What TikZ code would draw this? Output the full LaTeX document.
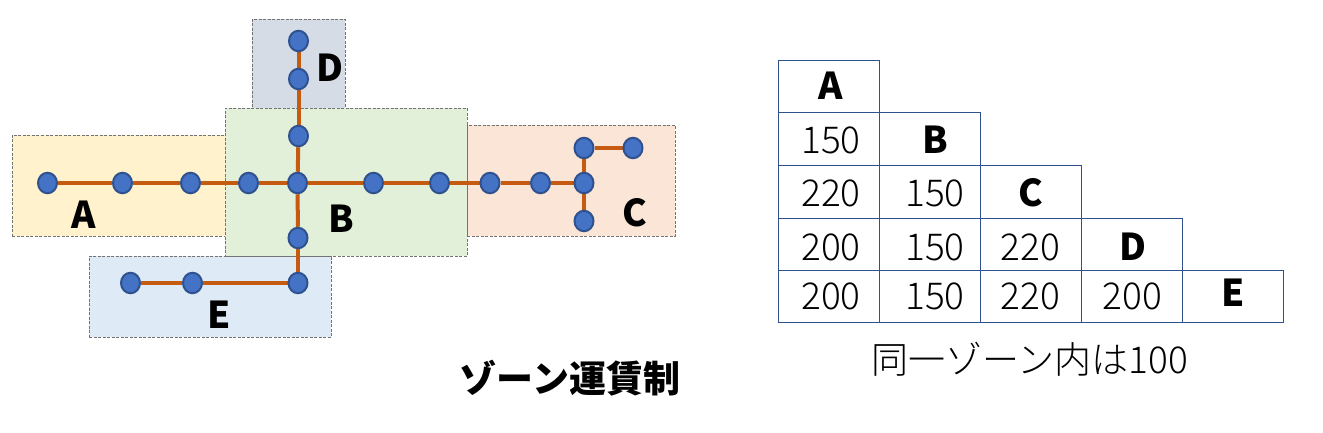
\documentclass[tikz,border=0pt]{standalone}
\usepackage{xcolor}
\usepackage{fontspec}
\usetikzlibrary{backgrounds, shapes.geometric}
\setmainfont{Noto Sans CJK JP}
\newfontfamily\thinface{Noto Sans CJK JP Light}
\definecolor{linecol}{HTML}{C55A11}
\definecolor{stnfill}{HTML}{4472C4}
\definecolor{stnline}{HTML}{2F528F}
\definecolor{zonea}{HTML}{FFF2CC}
\definecolor{zoneb}{HTML}{E2F0D9}
\definecolor{zonec}{HTML}{FBE5D6}
\definecolor{zoned}{HTML}{D6DCE5}
\definecolor{zonee}{HTML}{DEEBF7}

\begin{document}
\begin{tikzpicture}[
  x=1pt, y=-1pt,
  zonebox/.style={
    rectangle,
    draw=black!55,
    dash pattern=on 3pt off 1.5pt,
    line width=1pt,
    inner sep=0pt
  },
  stn/.style={
    ellipse,
    draw=stnline,
    fill=stnfill,
    line width=2pt,
    minimum width=19pt,
    minimum height=20.5pt,
    inner sep=0pt
  },
  rail/.style={line width=4pt, linecol},
  zonelabel/.style={font=\fontsize{37}{37}\selectfont\bfseries},
  cell/.style={
    rectangle,
    draw=stnline,
    line width=1pt,
    minimum width=101pt,
    inner sep=0pt,
    text depth=0pt,
    font=\fontsize{37}{37}\selectfont\thinface
  },
  head/.style={font=\fontsize{37}{37}\selectfont\bfseries},
  cola/.style={cell, execute at begin node=\hspace*{5pt}},
  colb/.style={cell, execute at begin node=\hspace*{11pt}},
  colc/.style={cell},
  cold/.style={cell, execute at begin node=\hspace*{2pt}},
  cole/.style={cell, execute at begin node=\hspace*{2pt}},
  rowa/.style={minimum height=52pt, text height=26pt},
  rowb/.style={minimum height=53pt, text height=29pt},
  rowc/.style={minimum height=53pt, text height=29pt},
  rowd/.style={minimum height=52pt, text height=32pt},
  rowe/.style={minimum height=52pt, text height=26pt}
]
  \useasboundingbox (0,0) rectangle (1323,432);

  \begin{scope}[on background layer]
    \node[zonebox, fill=zoned, minimum width=93pt, minimum height=89pt] (zoned) at (298.5,63.5) {};
    \node[zonebox, fill=zonea, minimum width=213pt, minimum height=101pt] (zonea) at (118.5,185.5) {};
    \node[zonebox, fill=zonee, minimum width=242pt, minimum height=81pt] (zonee) at (210,296.5) {};
    \node[zonebox, fill=zonec, minimum width=208pt, minimum height=111pt] (zonec) at (571,180.5) {};
    \node[zonebox, fill=zoneb, minimum width=242pt, minimum height=148pt] (zoneb) at (346,182) {};
  \end{scope}

  \node[stn] (a1) at (47.5,183) {};
  \node[stn] (a2) at (122.5,183) {};
  \node[stn] (a3) at (190.5,183) {};
  \node[stn] (b1) at (248.5,183) {};
  \node[stn] (b2) at (297.5,183) {};
  \node[stn] (b3) at (373.5,183) {};
  \node[stn] (b4) at (439.5,183) {};
  \node[stn] (b5) at (298.5,136) {};
  \node[stn] (b6) at (298,238) {};
  \node[stn] (c1) at (490,183) {};
  \node[stn] (c2) at (540.5,183) {};
  \node[stn] (c3) at (584,183) {};
  \node[stn] (c4) at (584,148) {};
  \node[stn] (c5) at (633,148) {};
  \node[stn] (c6) at (584,221) {};
  \node[stn] (d1) at (298.5,41) {};
  \node[stn] (d2) at (298.5,79) {};
  \node[stn] (e1) at (130.5,283) {};
  \node[stn] (e2) at (192.5,283) {};
  \node[stn] (e3) at (298,283) {};

  \begin{scope}[on background layer]
    \draw[rail] (a1) -- (a2);
    \draw[rail] (a2) -- (a3);
    \draw[rail] (a3) -- (b1);
    \draw[rail] (b1) -- (b2);
    \draw[rail] (b2) -- (b3);
    \draw[rail] (b3) -- (b4);
    \draw[rail] (b4) -- (c1);
    \draw[rail] (c1) -- (c2);
    \draw[rail] (c2) -- (c3);
    \draw[rail] (c3) -- (c4);
    \draw[rail] (c4) -- (c5);
    \draw[rail] (c3) -- (c6);
    \draw[rail] (d1) -- (d2);
    \draw[rail] (d2) -- (b5);
    \draw[rail] (b5) -- (b2);
    \draw[rail] (b2) -- (b6);
    \draw[rail] (b6) -- (e3);
    \draw[rail] (e3) -- (e2);
    \draw[rail] (e2) -- (e1);
  \end{scope}

  \node[zonelabel] (laba) at (84,215) {A};
  \node[zonelabel] (labb) at (341,219) {B};
  \node[zonelabel] (labc) at (635,213) {C};
  \node[zonelabel] (labd) at (330,68) {D};
  \node[zonelabel] (labe) at (219,315) {E};

  % fare table
  \node[cola, rowa, head] (taa) at (828.5,86) {A};
  \node[cola, rowb] (tba) at (828.5,138.5) {150};
  \node[colb, rowb, head] (tbb) at (929.5,138.5) {B};
  \node[cola, rowc] (tca) at (828.5,191.5) {220};
  \node[colb, rowc] (tcb) at (929.5,191.5) {150};
  \node[colc, rowc, head] (tcc) at (1030.5,191.5) {C};
  \node[cola, rowd] (tda) at (828.5,244) {200};
  \node[colb, rowd] (tdb) at (929.5,244) {150};
  \node[colc, rowd] (tdc) at (1030.5,244) {220};
  \node[cold, rowd, head] (tdd) at (1131.5,244) {D};
  \node[cola, rowe] (tea) at (828.5,296) {200};
  \node[colb, rowe] (teb) at (929.5,296) {150};
  \node[colc, rowe] (tec) at (1030.5,296) {220};
  \node[cold, rowe] (ted) at (1131.5,296) {200};
  \node[cole, rowe, head, text height=20pt] (tee) at (1232.5,296) {E};

  \node[font=\fontsize{37}{37}\selectfont\bfseries] (title) at (570,378) {ゾーン運賃制};
  \node[font=\fontsize{37}{37}\selectfont\thinface] (note) at (1030,359) {同一ゾーン内は100};
\end{tikzpicture}
\end{document}
